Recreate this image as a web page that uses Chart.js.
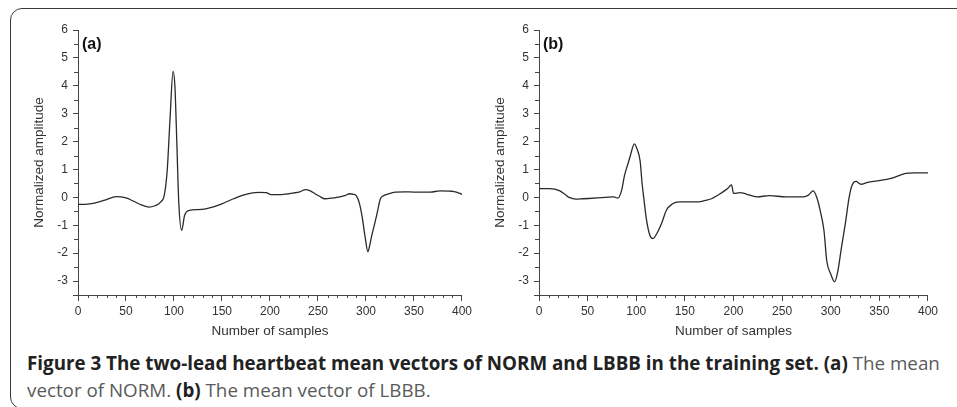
<!DOCTYPE html>
<html>
<head>
<meta charset="utf-8">
<script src="https://cdn.jsdelivr.net/npm/chart.js@4.4.1/dist/chart.umd.min.js"></script>
<style>
  html, body { margin: 0; padding: 0; background: #fff; }
  body { width: 957px; height: 407px; position: relative; overflow: hidden; }
  .frame {
    position: absolute; left: 10px; top: 8px; width: 1000px; height: 401px;
    border: 1.5px solid #3a3a3a; border-radius: 12px; box-sizing: border-box;
  }
  .panel { position: absolute; top: 0; height: 345px; }
  #panelA { left: 0; width: 475px; }
  #panelB { left: 461px; width: 480px; }
  .caption {
    position: absolute; left: 27px; top: 350px; width: 930px;
    font-family: "Open Sans", sans-serif; font-size: 18.8px; line-height: 27px;
    color: #5a5a5a; white-space: nowrap;
  }
  .caption b { color: #222; font-weight: 700; }
</style>
</head>
<body>
<div class="frame"></div>
<div class="panel" id="panelA"><canvas id="chartA"></canvas></div>
<div class="panel" id="panelB"><canvas id="chartB"></canvas></div>
<div class="caption">
  <b>Figure 3 The two-lead heartbeat mean vectors of NORM and LBBB in the training set. (a)</b> The mean<br>
  vector of NORM. <b>(b)</b> The mean vector of LBBB.
</div>
<script>
// NORM mean vector (panel a)
const normSamples = [0, 10, 18, 28, 40, 50, 58, 66, 74, 80, 86, 90, 93, 96, 99, 101, 103, 105, 108, 111,
  116, 125, 133, 142, 150, 162, 174, 188, 196, 201, 212, 225, 231, 237, 242, 247, 252, 257, 264, 271,
  278, 283, 287, 290, 293, 296, 299, 302, 304, 306, 309, 312, 315, 319, 325, 331, 340, 350, 360, 367,
  377, 389, 395, 400];
const normValues = [-0.25, -0.24, -0.2, -0.1, 0.03, -0.02, -0.14, -0.27, -0.35, -0.3, -0.17, 0.1, 1.0, 2.9, 4.52, 3.95, 1.9, -0.2, -1.18, -0.65,
  -0.47, -0.44, -0.41, -0.33, -0.23, -0.05, 0.1, 0.18, 0.17, 0.1, 0.1, 0.16, 0.2, 0.28, 0.23, 0.13, 0.03, -0.05, -0.03, 0.01,
  0.06, 0.13, 0.11, 0.05, -0.2, -0.7, -1.4, -1.95, -1.7, -1.37, -0.95, -0.5, -0.05, 0.07, 0.14, 0.19, 0.2, 0.19, 0.19, 0.19,
  0.23, 0.22, 0.18, 0.11];

// LBBB mean vector (panel b)
const lbbbSamples = [0, 11, 21, 27, 31, 38, 45, 51, 60, 68, 77, 81, 85, 88, 91, 94, 98, 101, 104, 106,
  108, 110.5, 114, 117, 122, 126, 131, 137, 144, 164, 171, 178, 188, 194, 198, 200, 207, 213, 224, 237,
  254, 272, 277, 282, 286, 289, 293, 296, 300, 304, 307, 311, 315, 319, 322, 326, 330, 332, 338, 348,
  362, 377, 386, 400];
const lbbbValues = [0.31, 0.31, 0.24, 0.1, 0.0, -0.06, -0.05, -0.04, -0.02, 0.0, 0.02, -0.03, 0.26, 0.8, 1.15, 1.5, 1.92, 1.72, 1.3, 0.5,
  -0.1, -0.8, -1.36, -1.48, -1.24, -0.94, -0.46, -0.24, -0.16, -0.16, -0.11, -0.04, 0.17, 0.32, 0.45, 0.14, 0.17, 0.12, 0.02, 0.06,
  0.02, 0.02, 0.08, 0.23, -0.04, -0.45, -1.18, -2.3, -2.75, -3.03, -2.7, -1.8, -0.94, 0.02, 0.44, 0.57, 0.48, 0.47, 0.54, 0.59,
  0.68, 0.86, 0.88, 0.88];

const xMin = 0, xMax = 400, xMajor = 50, xMinor = 10;
const yMin = -3.5, yMax = 6, yMajor = 1, yMinor = 0.5;

const axisColor = '#444';
const textColor = '#333';
const fontFamily = '"Liberation Sans", Arial, sans-serif';

// small ticks between the labelled ones
const minorTicks = {
  id: 'minorTicks',
  afterDraw(chart) {
    const { ctx, scales: { x, y } } = chart;
    ctx.save();
    ctx.strokeStyle = axisColor;
    ctx.lineWidth = 1;
    ctx.beginPath();
    for (let v = xMin; v <= xMax; v += xMinor) {
      if (v % xMajor === 0) continue;
      const px = Math.round(x.getPixelForValue(v)) + 0.5;
      ctx.moveTo(px, x.top);
      ctx.lineTo(px, x.top + 3);
    }
    for (let v = -3; v <= yMax; v += yMinor) {
      if (v % yMajor === 0) continue;
      const py = Math.round(y.getPixelForValue(v)) + 0.5;
      ctx.moveTo(y.right, py);
      ctx.lineTo(y.right - 4, py);
    }
    ctx.stroke();
    // panel letter
    ctx.fillStyle = '#111';
    ctx.font = 'bold 16px ' + fontFamily;
    ctx.textBaseline = 'top';
    ctx.fillText(chart.options.plugins.minorTicks.letter, chart.chartArea.left + 4, chart.chartArea.top + 7);
    ctx.restore();
  }
};

function makeChart(id, samples, values, letter, padRight) {
  const points = samples.map((s, i) => ({ x: s, y: values[i] }));
  return new Chart(document.getElementById(id), {
    type: 'line',
    data: {
      datasets: [{
        data: points,
        borderColor: '#2a2a2a',
        borderWidth: 1.3,
        pointRadius: 0,
        cubicInterpolationMode: 'monotone',
        fill: false
      }]
    },
    options: {
      responsive: true,
      maintainAspectRatio: false,
      animation: false,
      layout: { padding: { top: 30, right: padRight, left: 0, bottom: 0 } },
      plugins: {
        legend: { display: false },
        tooltip: { enabled: false },
        minorTicks: { letter: letter }
      },
      scales: {
        x: {
          type: 'linear',
          min: xMin, max: xMax,
          afterFit: (scale) => { scale.height = 50; },
          ticks: { stepSize: xMajor, color: textColor, padding: 3, maxRotation: 0, font: { family: fontFamily, size: 12 } },
          grid: { drawOnChartArea: false, tickLength: 6, tickColor: axisColor },
          border: { color: axisColor, width: 1 },
          title: { display: true, text: 'Number of samples', color: textColor, padding: { top: 0, bottom: 6 }, font: { family: fontFamily, size: 13.5 } }
        },
        y: {
          min: yMin, max: yMax,
          afterFit: (scale) => { scale.width = 78; },
          ticks: {
            stepSize: yMajor, color: textColor, padding: 5,
            font: { family: fontFamily, size: 12 },
            callback: (v) => Number.isInteger(v) ? v : ''
          },
          grid: { drawOnChartArea: false, tickLength: 5, tickColor: axisColor },
          border: { color: axisColor, width: 1 },
          title: { display: true, text: 'Normalized amplitude', color: textColor, padding: { top: 31, bottom: 0 }, font: { family: fontFamily, size: 13.5 } }
        }
      }
    },
    plugins: [minorTicks]
  });
}

makeChart('chartA', normSamples, normValues, '(a)', 6);
makeChart('chartB', lbbbSamples, lbbbValues, '(b)', 7);
</script>
</body>
</html>
